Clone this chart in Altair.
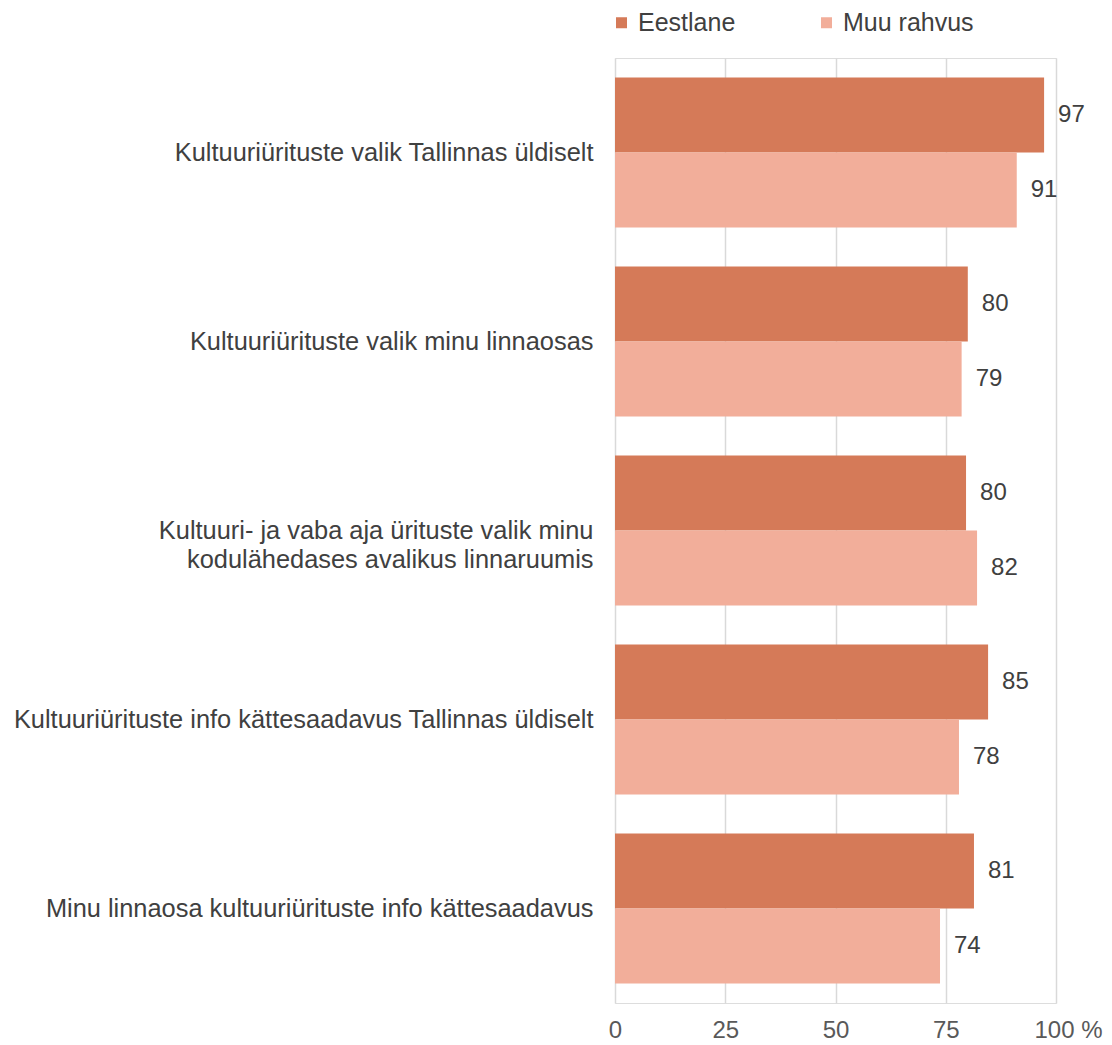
import altair as alt
import pandas as pd

categories = [
    "Kultuuriürituste valik Tallinnas üldiselt",
    "Kultuuriürituste valik minu linnaosas",
    "Kultuuri- ja vaba aja ürituste valik minu\nkodulähedases avalikus linnaruumis\u2002",
    "Kultuuriürituste info kättesaadavus Tallinnas üldiselt",
    "Minu linnaosa kultuuriürituste info kättesaadavus",
]
series = ["Eestlane", "Muu rahvus"]
eestlane = [97.3, 80.0, 79.6, 84.6, 81.4]
muu_rahvus = [91.1, 78.6, 82.1, 78.0, 73.7]
x_ticks = [0, 25, 50, 75, 100]

colors = ["#D57A58", "#F2AE9A"]

rows = []
for c, a, b in zip(categories, eestlane, muu_rahvus):
    rows.append({"cat": c, "group": series[0], "value": a})
    rows.append({"cat": c, "group": series[1], "value": b})
df = pd.DataFrame(rows)

FONT = "Liberation Sans"

y_enc = alt.Y(
    "cat:N",
    sort=categories,
    title=None,
    scale=alt.Scale(paddingInner=0.206, paddingOuter=0.103),
    axis=alt.Axis(
        ticks=False,
        domain=False,
        grid=False,
        labelPadding=22,
        labelFontSize=25.4,
        labelFont=FONT,
        labelColor="#404040",
        labelLimit=700,
        labelLineHeight=29,
        labelExpr="split(datum.label, '\\n')",
    ),
)
x_enc = alt.X(
    "value:Q",
    title=None,
    scale=alt.Scale(domain=[0, 100], nice=False),
    axis=alt.Axis(
        values=x_ticks,
        ticks=False,
        domain=False,
        grid=True,
        gridColor="#D9D9D9",
        gridWidth=1.5,
        labelFlush=False,
        labelPadding=15,
        labelFontSize=24,
        labelFont=FONT,
        labelColor="#595959",
        labelOffset={"condition": {"test": "datum.value == 100", "value": 12}, "value": 0},
        labelExpr="datum.value == 100 ? '100 %' : datum.label",
    ),
)
yoff = alt.YOffset("group:N", sort=series, scale=alt.Scale(paddingInner=0, paddingOuter=0))

bars = alt.Chart(df).mark_bar().encode(
    x=x_enc,
    y=y_enc,
    yOffset=yoff,
    color=alt.Color(
        "group:N",
        sort=series,
        scale=alt.Scale(domain=series, range=colors),
        legend=alt.Legend(
            title=None,
            orient="none",
            legendX=-6,
            legendY=-48,
            direction="horizontal",
            symbolType="square",
            symbolSize=121,
            symbolStrokeWidth=0,
            labelFontSize=25,
            labelFont=FONT,
            labelColor="#404040",
            labelOffset=4,
            columnPadding=78,
        ),
    ),
)

labels = alt.Chart(df).mark_text(
    align="left", baseline="middle", dx=14, fontSize=24, font=FONT, color="#404040"
).encode(
    x="value:Q",
    y=alt.Y("cat:N", sort=categories),
    yOffset=yoff,
    text=alt.Text("value:Q", format=".0f"),
)

chart = (
    alt.layer(bars, labels)
    .properties(
        width=441,
        height=945,
        autosize=alt.AutoSizeParams(type="none"),
        padding={"left": 607, "top": 50, "right": 48, "bottom": 38},
    )
    .configure_view(stroke=None)
    .configure(background="white")
)

chart.save("out.html", embed_options={"renderer": "svg", "actions": False})
